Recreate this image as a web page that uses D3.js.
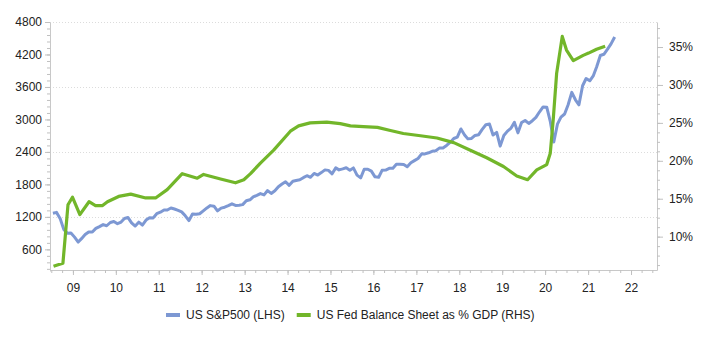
<!DOCTYPE html>
<html>
<head>
<meta charset="utf-8">
<script src="https://cdn.jsdelivr.net/npm/d3@7"></script>
<style>
  body { margin: 0; background: #fff; }
  text { font-family: "Liberation Sans", Arial, sans-serif; }
</style>
</head>
<body>
<script>
// S&P 500 month-end closes, Jul 2008 .. Aug 2021
var spxStart = [2008, 6];
var spxValues = [
  1267, 1283, 1166, 969, 896, 903,
  826, 735, 798, 873, 919, 919, 987, 1021, 1057, 1036, 1096, 1115,
  1074, 1104, 1169, 1187, 1089, 1031, 1102, 1049, 1141, 1183, 1181, 1258,
  1286, 1327, 1326, 1364, 1345, 1321, 1292, 1219, 1131, 1253, 1247, 1258,
  1312, 1366, 1408, 1398, 1310, 1362, 1379, 1407, 1441, 1412, 1416, 1426,
  1498, 1515, 1569, 1598, 1631, 1606, 1686, 1633, 1682, 1757, 1806, 1848,
  1783, 1859, 1872, 1884, 1924, 1960, 1931, 2003, 1972, 2018, 2068, 2059,
  1995, 2105, 2068, 2086, 2107, 2063, 2104, 1972, 1920, 2079, 2080, 2044,
  1940, 1932, 2060, 2065, 2097, 2099, 2174, 2171, 2168, 2126, 2199, 2239,
  2279, 2364, 2363, 2384, 2412, 2423, 2470, 2472, 2519, 2575, 2648, 2674,
  2824, 2714, 2641, 2648, 2705, 2718, 2816, 2902, 2914, 2712, 2760, 2507,
  2704, 2784, 2834, 2946, 2752, 2942, 2980, 2926, 2977, 3038, 3141, 3231,
  3226, 2954, 2585, 2912, 3044, 3100, 3271, 3500, 3363, 3270, 3622, 3756,
  3714, 3811, 3973, 4181, 4204, 4298, 4395, 4523
];

// Fed balance sheet as % of GDP
var fedDates = [
  "2008-07-20", "2008-08-28", "2008-10-08", "2008-11-20", "2008-12-28",
  "2009-03-01", "2009-05-18", "2009-07-12", "2009-09-10", "2009-10-22",
  "2010-01-25", "2010-05-08", "2010-09-12", "2010-12-05",
  "2011-03-14", "2011-07-20", "2011-11-25",
  "2012-01-18", "2012-06-10", "2012-10-15", "2012-12-25",
  "2013-02-20", "2013-05-15", "2013-09-05",
  "2014-01-25", "2014-04-05", "2014-07-12", "2014-12-01",
  "2015-03-25", "2015-06-20", "2015-10-08",
  "2016-02-05", "2016-05-25", "2016-09-12",
  "2017-02-05", "2017-06-25", "2017-11-15",
  "2018-04-05", "2018-08-22",
  "2019-01-12", "2019-05-05", "2019-08-05", "2019-10-22",
  "2020-01-15", "2020-02-14", "2020-03-10", "2020-04-08", "2020-05-26",
  "2020-07-01", "2020-08-28", "2020-11-20",
  "2021-01-05", "2021-03-14", "2021-05-26"
];
var fedValues = [
  6.1, 6.3, 6.5, 14.2, 15.2,
  12.9, 14.6, 14.1, 14.1, 14.6,
  15.3, 15.6, 15.1, 15.1,
  16.2, 18.3, 17.7,
  18.2, 17.6, 17.1, 17.5,
  18.3, 19.7, 21.4,
  23.9, 24.6, 25.0, 25.1,
  24.9, 24.6, 24.5,
  24.4, 24.0, 23.6,
  23.3, 23.0, 22.4,
  21.4, 20.4,
  19.25, 18.0, 17.5, 18.8,
  19.5, 21.0, 25.4, 31.5, 36.4,
  34.6, 33.2, 33.9,
  34.2, 34.7, 35.1
];

var yearTicks = ["09", "10", "11", "12", "13", "14", "15", "16", "17", "18", "19", "20", "21", "22"];
var leftTicks = [600, 1200, 1800, 2400, 3000, 3600, 4200, 4800];
var rightTicks = [10, 15, 20, 25, 30, 35];
var seriesNames = ["US S&P500 (LHS)", "US Fed Balance Sheet as % GDP (RHS)"];
var colors = ["#7d98d3", "#72b62a"];

var width = 725, height = 348;
var plot = { left: 50, right: 657, top: 22, bottom: 270 };

var svg = d3.select("body").append("svg")
    .attr("width", width)
    .attr("height", height);

var parse = d3.timeParse("%Y-%m-%d");

var spx = spxValues.map(function(v, i) {
  return { date: new Date(spxStart[0], spxStart[1] + i, 15), value: v };
});
var fed = fedDates.map(function(d, i) {
  return { date: parse(d), value: fedValues[i] };
});

var x = d3.scaleTime()
    .domain([new Date(2008, 5, 20), new Date(2022, 7, 10)])
    .range([plot.left, plot.right]);
var yL = d3.scaleLinear().domain([200, 4800]).range([plot.bottom + 1, plot.top]);
var yR = d3.scaleLinear().domain([5.6, 38.3]).range([plot.bottom, plot.top]);

// gridlines
svg.append("g")
  .selectAll("line")
  .data([1200, 2400, 3600, 4800])
  .enter().append("line")
    .attr("x1", plot.left).attr("x2", plot.right)
    .attr("y1", function(d) { return Math.round(yL(d)) + 0.5; })
    .attr("y2", function(d) { return Math.round(yL(d)) + 0.5; })
    .attr("stroke", "#dcdcdc")
    .attr("stroke-dasharray", "1,2");

// minor ticks
var minorL = d3.range(240, 4801, 120);
var minorR = d3.range(6.25, 38.3, 1.25);
var minorX = d3.timeMonth.every(3).range(new Date(2008, 6, 1), new Date(2022, 7, 10));

function tickStyle(sel) {
  sel.selectAll(".domain").attr("stroke", "#c8c8c8");
  sel.selectAll(".tick line").attr("stroke", "#c0c0c0");
  sel.selectAll("text").attr("fill", "#222").style("font-size", "12px");
}

var gl = svg.append("g").attr("transform", "translate(" + plot.left + ",0)");
gl.call(d3.axisLeft(yL).tickValues(minorL).tickSize(3).tickFormat("").tickSizeOuter(0));
gl.append("g").call(d3.axisLeft(yL).tickValues(leftTicks).tickSize(5).tickPadding(3)
    .tickFormat(d3.format("d")).tickSizeOuter(0))
  .select(".domain").remove();
tickStyle(gl);

var gr = svg.append("g").attr("transform", "translate(" + plot.right + ",0)");
gr.call(d3.axisRight(yR).tickValues(minorR).tickSize(3).tickFormat("").tickSizeOuter(0));
gr.append("g").call(d3.axisRight(yR).tickValues(rightTicks).tickSize(6).tickPadding(6)
    .tickFormat(function(d) { return d + "%"; }).tickSizeOuter(0))
  .select(".domain").remove();
tickStyle(gr);

var gx = svg.append("g").attr("transform", "translate(0," + plot.bottom + ")");
gx.call(d3.axisBottom(x).tickValues(minorX).tickSize(3).tickFormat("").tickSizeOuter(0));
gx.append("g").call(d3.axisBottom(x)
    .tickValues(yearTicks.map(function(y) { return new Date(2000 + (+y), 0, 1); }))
    .tickSize(5).tickPadding(8).tickFormat(d3.timeFormat("%y")).tickSizeOuter(0))
  .select(".domain").remove();
tickStyle(gx);

// lines
var lineL = d3.line()
    .x(function(d) { return x(d.date); })
    .y(function(d) { return yL(d.value); });
var lineR = d3.line()
    .x(function(d) { return x(d.date); })
    .y(function(d) { return yR(d.value); });

svg.append("path")
    .datum(spx)
    .attr("d", lineL)
    .attr("fill", "none")
    .attr("stroke", colors[0])
    .attr("stroke-width", 3)
    .attr("stroke-linejoin", "round");

svg.append("path")
    .datum(fed)
    .attr("d", lineR)
    .attr("fill", "none")
    .attr("stroke", colors[1])
    .attr("stroke-width", 3.2)
    .attr("stroke-linejoin", "round");

// legend
var legend = svg.append("g").attr("transform", "translate(166,315)");
var lx = 0;
seriesNames.forEach(function(name, i) {
  var item = legend.append("g").attr("transform", "translate(" + lx + ",0)");
  item.append("line")
      .attr("x1", 0).attr("x2", 14)
      .attr("y1", 0).attr("y2", 0)
      .attr("stroke", colors[i])
      .attr("stroke-width", 4);
  var t = item.append("text")
      .attr("x", 20)
      .attr("y", 4)
      .attr("fill", "#222")
      .style("font-size", "12px")
      .text(name);
  lx += 20 + t.node().getComputedTextLength() + 12;
});
</script>
</body>
</html>
